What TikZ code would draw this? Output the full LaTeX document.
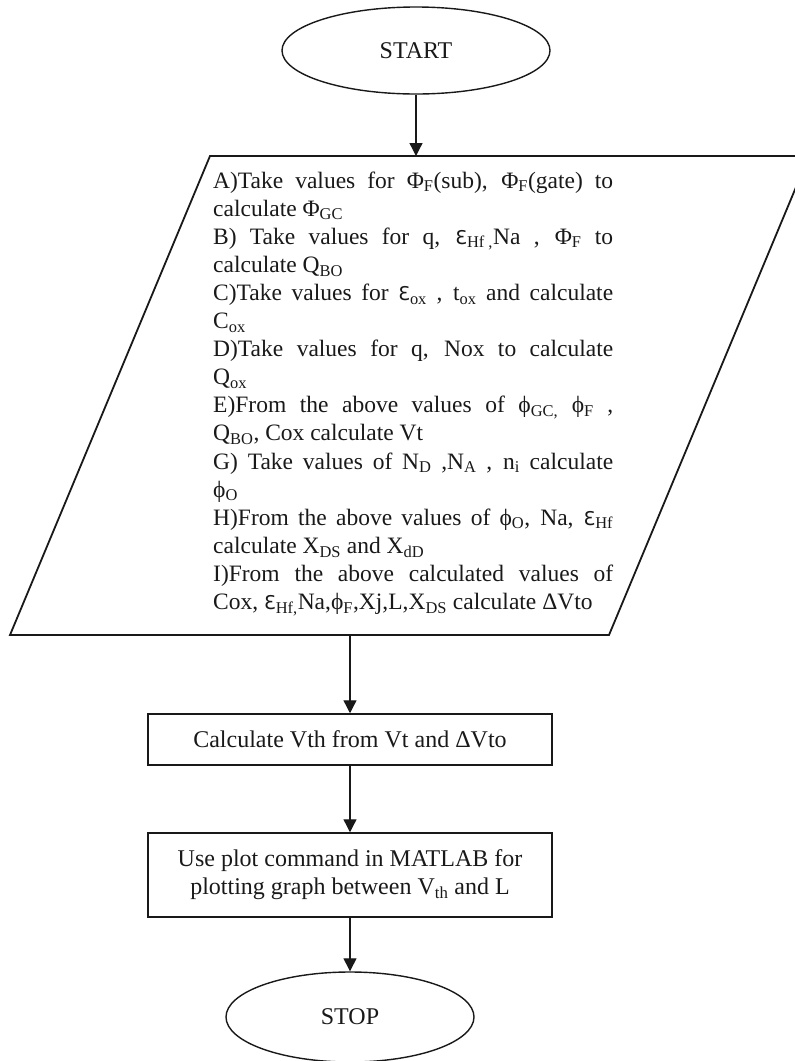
\documentclass[tikz,border=0pt]{standalone}
\usepackage{fontspec}
\setmainfont{Liberation Serif}
\newfontfamily\symfont{DejaVu Sans}
\usetikzlibrary{arrows.meta,shapes.geometric}

% open epsilon used for permittivities, and a short subscript helper
\newcommand\eps{{\symfont\fontsize{19}{19}\selectfont Ɛ}}
\newcommand\sub[1]{\textsubscript{#1}}

\tikzset{
  terminal/.style={ellipse, draw, line width=1.4pt, inner sep=0pt,
                   font=\fontsize{24}{28}\selectfont},
  procbox/.style={rectangle, draw, line width=1.5pt, minimum width=404pt,
                  inner sep=0pt, align=center, font=\fontsize{24}{28}\selectfont},
  flow/.style={line width=1.3pt, -{Triangle[width=13pt,length=13pt]}},
  steptext/.style={anchor=base west, text width=400pt, inner sep=0pt,
                   align=justify, font=\fontsize{23.5}{28.1}\selectfont},
}

\begin{document}
\begin{tikzpicture}[x=1pt, y=-1pt, color=black!90]
\useasboundingbox (0,0) rectangle (795,1061);
\clip (0,0) rectangle (795,1061);

% start terminal
\node[terminal, minimum width=268pt, minimum height=87pt] (start) at (416,50.5) {START};

% input parallelogram
\coordinate (pTL) at (210,156);
\coordinate (pTR) at (809,156);
\coordinate (pBR) at (609,635);
\coordinate (pBL) at (10,635);
\draw[line width=1.8pt] (pTL) -- (pTR) -- (pBR) -- (pBL) -- cycle;
\coordinate (pin) at (416,156);
\coordinate (pout) at (350,635);

\node[steptext] (steps) at (213,188) {%
A)Take values for Φ\sub{F}(sub), Φ\sub{F}(gate) to\linebreak
calculate Φ\sub{GC}\par
B) Take values for q, \eps\sub{Hf ,}Na , Φ\sub{F} to\linebreak
calculate Q\sub{BO}\par
C)Take values for \eps\sub{ox} , t\sub{ox} and calculate\linebreak
C\sub{ox}\par
D)Take values for q, Nox to calculate\linebreak
Q\sub{ox}\par
E)From the above values of ϕ\sub{GC,} ϕ\sub{F} ,\linebreak
Q\sub{BO}, Cox calculate Vt\par
G) Take values of N\sub{D} ,N\sub{A} , n\sub{i} calculate\linebreak
ϕ\sub{O}\par
H)From the above values of ϕ\sub{O}, Na, \eps\sub{Hf}\linebreak
calculate X\sub{DS} and X\sub{dD}\par
I)From the above calculated values of\linebreak
Cox, \eps\sub{Hf,}Na,ϕ\sub{F},Xj,L,X\sub{DS} calculate ΔVto};

% process boxes
\node[procbox, minimum height=51pt] (vth) at (350,739.5) {Calculate Vth from Vt and ΔVto};
\node[procbox, minimum height=84pt] (plot) at (350,875)
  {Use plot command in MATLAB for\\plotting graph between V\sub{th} and L};

% stop terminal
\node[terminal, minimum width=248pt, minimum height=90pt] (stop) at (350,1017) {\raisebox{-5pt}{STOP}};

% connectors
\draw[flow] (start) -- (pin);
\draw[flow] (pout) -- (vth);
\draw[flow] (vth) -- (plot);
\draw[flow] (plot) -- (stop);
\end{tikzpicture}
\end{document}
